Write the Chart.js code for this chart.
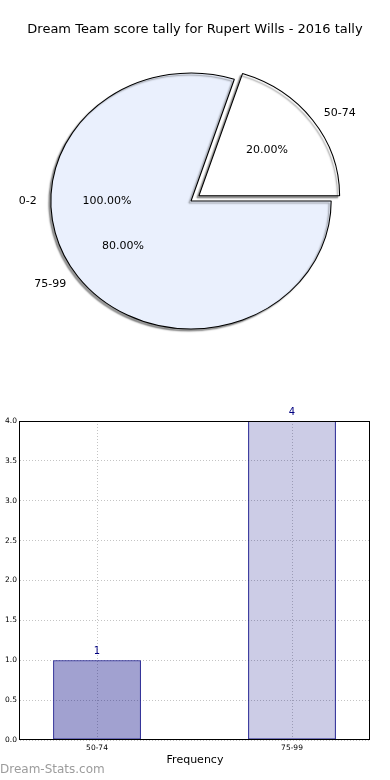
<!DOCTYPE html>
<html>
<head>
<meta charset="utf-8">
<script src="https://cdn.jsdelivr.net/npm/chart.js@4.4.0/dist/chart.umd.min.js"></script>
<style>
  html, body { margin: 0; padding: 0; background: #fff; overflow: hidden; }
  #wrap { position: relative; width: 390px; height: 780px; }
  canvas { position: absolute; left: 0; }
  #pie { top: 0; }
  #bars { top: 380px; }
</style>
</head>
<body>
<div id="wrap">
  <canvas id="pie" width="390" height="380"></canvas>
  <canvas id="bars" width="390" height="400"></canvas>
</div>
<script>
const TITLE = 'Dream Team score tally for Rupert Wills - 2016 tally';
const categories = ['50-74', '75-99'];
const counts = [1, 4];
const pieColors = ['#ffffff', '#eaf0fd'];
const explode = [9, 0];
// empty first bucket, drawn by the source as a 100% pie under the real one
const baseLabel = '0-2';
const basePct = 100;
const barColors = ['rgba(0,0,128,0.37)', 'rgba(0,0,128,0.2)'];
const yMax = 4;
const yStep = 0.5;

const FONT = "'DejaVu Sans', sans-serif";
const SX = 1.095; // the source pie is stretched sideways
const total = counts.reduce((s, v) => s + v, 0);

const pieDecor = {
  id: 'pieDecor',
  beforeDatasetsDraw(chart) {
    const a = chart.getDatasetMeta(0).data[0];
    const ctx = chart.ctx;
    ctx.save();
    ctx.translate(a.x, a.y);
    ctx.scale(SX, 1);
    ctx.translate(-a.x, -a.y);
    ctx.shadowColor = 'rgba(0,0,0,0.4)';
    ctx.shadowOffsetX = -2;
    ctx.shadowOffsetY = 2;
    ctx.shadowBlur = 1.5;
  },
  afterDatasetsDraw(chart) {
    chart.ctx.restore();
  },
  afterDraw(chart) {
    const ctx = chart.ctx;
    const arcs = chart.getDatasetMeta(0).data;
    const cx = arcs[0].x, cy = arcs[0].y, r = arcs[0].outerRadius;
    ctx.save();
    ctx.fillStyle = '#000';
    ctx.textBaseline = 'middle';
    ctx.font = '13px ' + FONT;
    ctx.textAlign = 'center';
    ctx.fillText(TITLE, 195, 30);

    ctx.font = '11px ' + FONT;
    const put = (ang, dist, off, text, side) => {
      const x = cx + SX * (dist * r + off) * Math.cos(ang);
      const y = cy + (dist * r + off) * Math.sin(ang);
      ctx.textAlign = side ? (Math.cos(ang) >= 0 ? 'left' : 'right') : 'center';
      ctx.fillText(text, x, y);
    };
    put(Math.PI, 1.1, 0, baseLabel, true);
    put(Math.PI, 0.6, 0, basePct.toFixed(2) + '%', false);
    arcs.forEach((a, i) => {
      const mid = (a.startAngle + a.endAngle) / 2;
      put(mid, 1.1, explode[i], categories[i], true);
      put(mid, 0.6, explode[i], (counts[i] / total * 100).toFixed(2) + '%', false);
    });
    ctx.restore();
  }
};

new Chart(document.getElementById('pie'), {
  type: 'pie',
  data: {
    labels: categories,
    datasets: [{
      data: counts,
      backgroundColor: pieColors,
      borderColor: '#000',
      borderWidth: 1,
      offset: explode.map(e => e * 4), // chart.js moves a slice by offset / 4
    }],
  },
  options: {
    responsive: false,
    animation: false,
    rotation: 90 - 360 * counts[0] / total,
    radius: 128,
    layout: { padding: { top: 38, right: 8, bottom: 16, left: 0 } },
    plugins: { legend: { display: false }, tooltip: { enabled: false } },
  },
  plugins: [pieDecor],
});

const barDecor = {
  id: 'barDecor',
  afterDatasetsDraw(chart) {
    const ctx = chart.ctx;
    ctx.save();
    ctx.fillStyle = '#000080';
    ctx.font = '10px ' + FONT;
    ctx.textAlign = 'center';
    ctx.textBaseline = 'middle';
    chart.getDatasetMeta(0).data.forEach((b, i) => {
      ctx.fillText(String(counts[i]), b.x, b.y - 9);
    });
    ctx.restore();
  },
  afterDraw(chart) {
    const ctx = chart.ctx;
    const a = chart.chartArea;
    ctx.save();
    ctx.strokeStyle = '#000';
    ctx.lineWidth = 1;
    ctx.strokeRect(Math.round(a.left) - 0.5, Math.round(a.top) + 0.5, Math.round(a.right - a.left), Math.round(a.bottom - a.top) - 1);
    ctx.fillStyle = '#9c9c9c';
    ctx.font = '12px ' + FONT;
    ctx.textAlign = 'left';
    ctx.textBaseline = 'middle';
    ctx.fillText('Dream-Stats.com', 0, 390);
    ctx.restore();
  }
};

const GRID = { color: '#c4c4c4', lineWidth: 1, drawTicks: false, offset: false };

new Chart(document.getElementById('bars'), {
  type: 'bar',
  data: {
    datasets: [{
      data: counts.map((v, i) => ({ x: i, y: v })),
      backgroundColor: barColors,
      borderColor: '#000080',
      borderWidth: 1,
      borderSkipped: false,
      categoryPercentage: 1,
      barPercentage: 0.45,
    }],
  },
  options: {
    responsive: false,
    animation: false,
    layout: { padding: { top: 41, right: 20, bottom: 0, left: 0 } },
    plugins: { legend: { display: false }, tooltip: { enabled: false } },
    scales: {
      x: {
        type: 'linear',
        offset: false,
        min: -0.395,
        max: 1.4,
        afterBuildTicks: s => { s.ticks = categories.map((c, i) => ({ value: i })); },
        afterFit: s => { s.height = 40; },
        ticks: { callback: v => categories[v], font: { size: 7.5, family: FONT }, color: '#000', padding: 4, autoSkip: false, maxRotation: 0 },
        grid: GRID,
        border: { display: false, dash: [1, 2] },
        title: { display: true, text: 'Frequency', font: { size: 11, family: FONT }, color: '#000', padding: { top: 0, bottom: 13.4 } },
      },
      y: {
        min: 0,
        max: yMax,
        afterFit: s => { s.width = 20; },
        ticks: { stepSize: yStep, callback: v => v.toFixed(1), font: { size: 7.5, family: FONT }, color: '#000', padding: 3 },
        grid: GRID,
        border: { display: false, dash: [1, 2] },
      },
    },
  },
  plugins: [barDecor],
});
</script>
</body>
</html>
